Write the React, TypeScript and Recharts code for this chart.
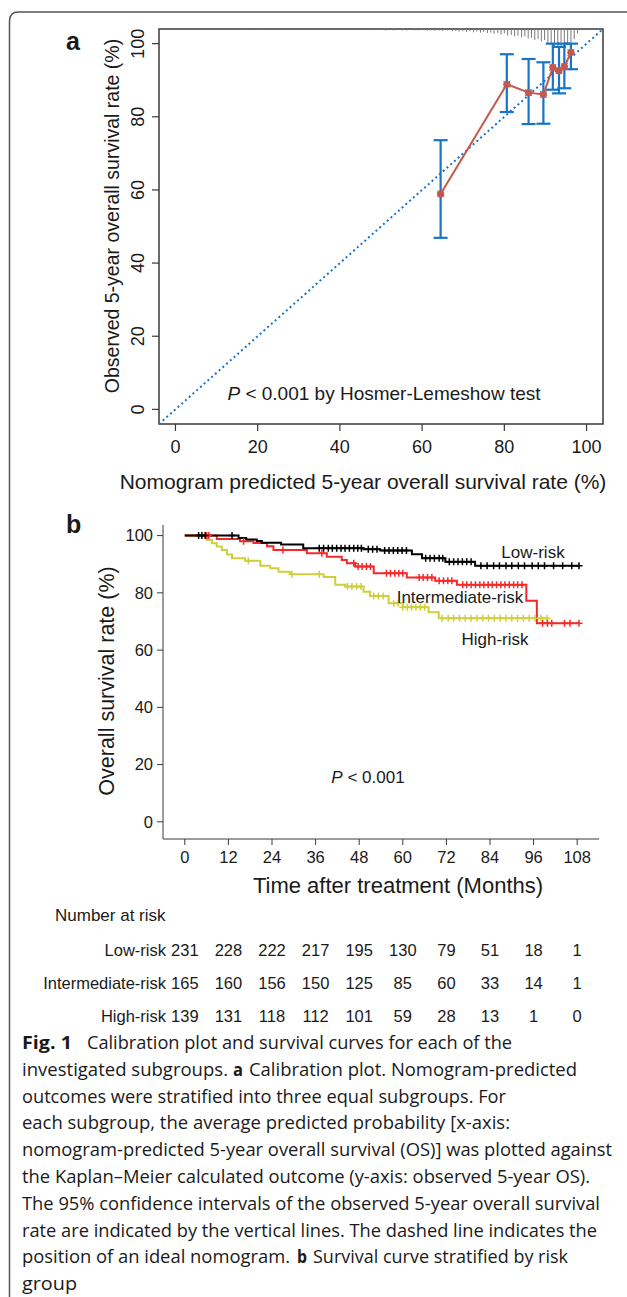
import {
  ComposedChart,
  Line,
  Scatter,
  XAxis,
  YAxis,
  ErrorBar,
  ReferenceLine,
  ReferenceArea,
} from "recharts";

const FONT = "'Liberation Sans', Arial, Helvetica, sans-serif";
const CAPTION_FONT = "'Open Sans', 'Noto Sans', sans-serif";
const BLUE = "#1874c8";
const BROWN = "#c4594b";
const AXIS = "#3a3a3a";
const INK = "#1a1a1a";

// ---- panel a: calibration plot ----
const calPredicted = [64.5, 80.6, 85.9, 89.5, 91.8, 93.3, 94.6, 96.2];
const calObserved = [58.9, 88.9, 86.6, 86.1, 93.5, 92.6, 93.7, 97.6];
const calLower = [46.9, 81.3, 78.0, 78.1, 87.4, 86.4, 87.8, 93.0];
const calUpper = [73.6, 97.1, 95.8, 94.9, 100, 99.1, 100, 100];
const calTicks = [0, 20, 40, 60, 80, 100];

// distribution of predicted risk (rug along the top edge)
const rugX = [
  16.8, 20.9, 47.2, 48.4, 49.8, 51.2, 52.0, 53.1, 54.0, 55.2, 56.3, 58.1, 59.0,
  60.2, 61.3, 62.0, 63.1, 64.2, 65.0, 66.1, 67.4, 68.2, 69.0, 69.9, 70.8, 71.6,
  72.5, 73.3, 74.2, 75.0, 75.9, 76.7, 77.5, 78.4, 79.2, 80.0, 80.8, 81.7, 82.5,
  83.3, 84.2, 85.0, 85.8, 86.6, 87.4, 88.2, 89.0, 89.8, 90.6, 91.4, 92.2, 93.0,
  93.8, 94.6, 95.4, 96.2, 97.0, 97.8,
];
const rugLen = [
  0.3, 0.3, 0.3, 0.3, 0.3, 0.4, 0.3, 0.4, 0.3, 0.4, 0.4, 0.4, 0.4, 0.3, 0.5,
  0.4, 0.5, 0.4, 0.5, 0.4, 0.6, 0.5, 0.7, 0.6, 0.8, 0.6, 0.9, 0.7, 1.0, 0.8,
  1.1, 1.0, 1.3, 1.1, 1.5, 1.2, 1.8, 1.6, 2.0, 1.8, 2.3, 2.0, 2.6, 2.4, 3.0,
  2.7, 3.4, 3.0, 3.8, 4.2, 4.8, 5.0, 4.6, 5.2, 4.4, 3.6, 2.8, 1.2,
];

// ---- panel b: Kaplan-Meier curves ----
const monthTicks = [0, 12, 24, 36, 48, 60, 72, 84, 96, 108];
const survTicks = [0, 20, 40, 60, 80, 100];

const lowTimes = [0, 14.8, 16.9, 19.8, 21.2, 26.5, 32.6, 49.2, 53.8, 62.5, 65.3, 71.7, 79.9];
const lowSurv = [100, 99.2, 98.6, 98.1, 97.5, 96.9, 95.6, 95.2, 94.8, 93.5, 92.1, 90.9, 89.5];
const lowEnd = 108.5;
const lowCensor = [
  3.8, 4.7, 5.6, 13.0, 37, 38.2, 39.5, 40.6, 41.8, 43, 44.1, 45.3, 46.5, 47.6,
  48.6, 50.5, 51.7, 52.9, 55, 56.2, 57.4, 58.6, 59.8, 61, 66.3, 67.5, 68.7, 70,
  71, 72.8, 74, 75.2, 76.4, 77.6, 78.8, 81.5, 83.2, 85, 86.6, 88.4, 90, 91.8,
  93.5, 95.6, 97.3, 99, 101.5, 104, 106.5, 108.5,
];

const midTimes = [0, 8.8, 15.2, 18.9, 22.6, 24.4, 33.6, 39.1, 43.2, 44.6, 46.9, 52.0, 61.1, 68.9, 74.9, 94.0, 96.9];
const midSurv = [100, 98.8, 98.0, 97.4, 96.3, 95.0, 93.8, 92.6, 91.5, 90.3, 89.2, 86.8, 85.4, 84.2, 82.8, 77.2, 69.4];
const midEnd = 108.5;
const midCensor = [
  6.0, 6.6, 16.2, 27, 37.7, 46.5, 47.7, 48.8, 50, 51.1, 55.5, 56.6, 57.8, 58.9,
  60, 64.5, 65.6, 66.8, 68, 70, 71.2, 72.4, 73.5, 76.5, 77.6, 78.8, 80, 81.2,
  82.3, 83.5, 84.6, 85.8, 87, 88.1, 89.3, 90.5, 91.6, 92.8, 98.5, 99.8, 101,
  104.5, 106, 108.5,
];

const highTimes = [0, 6.1, 7.5, 8.8, 10.2, 11.6, 13.0, 16.6, 20.8, 23.5, 25.8, 29.0, 38.2, 41.4, 44.2, 49.2, 51.0, 56.1, 60.0, 67.1, 69.9];
const highSurv = [100, 98.5, 97.3, 96.2, 95.0, 93.4, 92.1, 91.2, 89.5, 88.6, 87.4, 86.5, 85.5, 82.8, 82.2, 80.4, 78.9, 76.4, 75.0, 73.2, 71.1];
const highEnd = 99.7;
const highCensor = [
  17.5, 29.5, 37, 44.8, 46, 47.3, 48.5, 52, 53.3, 54.6, 57.5, 58.7, 60, 61.2,
  62.4, 63.6, 64.8, 66, 70.8, 72.5, 74, 75.6, 77.2, 78.8, 80.4, 82, 83.6, 85.2,
  86.8, 88.4, 90, 91.6, 93.2, 94.8, 96.4, 98, 99.7,
];

const riskNames = ["Low-risk", "Intermediate-risk", "High-risk"];
const riskLow = [231, 228, 222, 217, 195, 130, 79, 51, 18, 1];
const riskMid = [165, 160, 156, 150, 125, 85, 60, 33, 14, 1];
const riskHigh = [139, 131, 118, 112, 101, 59, 28, 13, 1, 0];

// caption pieces: text, bold, left x, width
type Seg = [string, boolean, number, number];
const captionLines: Seg[][] = [
  [["Fig. 1", true, 22, 50], ["Calibration plot and survival curves for each of the", false, 87, 425]],
  [["investigated subgroups.", false, 22, 206], ["a", true, 233, 10], ["Calibration plot. Nomogram-predicted", false, 249, 328]],
  [["outcomes were stratified into three equal subgroups. For", false, 22, 484]],
  [["each subgroup, the average predicted probability [x-axis:", false, 22, 488]],
  [["nomogram-predicted 5-year overall survival (OS)] was plotted against", false, 22, 590]],
  [["the Kaplan\u2013Meier calculated outcome (y-axis: observed 5-year OS).", false, 22, 568]],
  [["The 95% confidence intervals of the observed 5-year overall survival", false, 22, 578]],
  [["rate are indicated by the vertical lines. The dashed line indicates the", false, 22, 575]],
  [["position of an ideal nomogram.", false, 22, 268], ["b", true, 297, 10], ["Survival curve stratified by risk", false, 313, 255]],
  [["group", false, 22, 55]],
];

function kmData(times: number[], surv: number[], end: number) {
  return [
    ...times.map((t, i) => ({ t, s: surv[i] })),
    { t: end, s: surv[surv.length - 1] },
  ];
}

function survAt(times: number[], surv: number[], t: number) {
  let s = surv[0];
  times.forEach((tt, i) => {
    if (tt <= t) s = surv[i];
  });
  return s;
}

function censorData(times: number[], surv: number[], censor: number[]) {
  return censor.map((t) => ({ t, s: survAt(times, surv, t) }));
}

const calData = calPredicted.map((x, i) => ({
  x,
  y: calObserved[i],
  err: [calObserved[i] - calLower[i], calUpper[i] - calObserved[i]],
}));

function RotatedTick({ x, y, payload }: any) {
  return (
    <text
      x={x}
      y={y}
      transform={`rotate(-90 ${x} ${y})`}
      textAnchor="middle"
      fontSize={18}
      fontFamily={FONT}
      fill={INK}
    >
      {payload.value}
    </text>
  );
}

function CalDot({ cx, cy }: any) {
  if (cx == null || cy == null) return null;
  return (
    <g>
      <path
        d={`M${cx - 3.5},${cy - 3.5}L${cx + 3.5},${cy + 3.5}M${cx - 3.5},${cy + 3.5}L${cx + 3.5},${cy - 3.5}`}
        stroke="#6b6bff"
        strokeWidth={1}
      />
      <circle cx={cx} cy={cy} r={3.6} fill={BROWN} />
    </g>
  );
}

function plusShape(color: string) {
  return ({ cx, cy }: any) => {
    if (cx == null || cy == null) return null;
    return (
      <path
        d={`M${cx - 3.5},${cy}H${cx + 3.5}M${cx},${cy - 3.5}V${cy + 3.5}`}
        stroke={color}
        strokeWidth={1.5}
        fill="none"
      />
    );
  };
}

const noShape = () => null;

function CalibrationChart() {
  return (
    <ComposedChart
      width={627}
      height={500}
      margin={{ top: 29, right: 24, bottom: 46, left: 119 }}
    >
      <XAxis
        type="number"
        dataKey="x"
        domain={[-4, 104]}
        ticks={calTicks}
        height={30}
        axisLine={false}
        tickSize={7}
        tickMargin={9}
        tickLine={{ stroke: AXIS, strokeWidth: 1.2 }}
        tick={{ fontSize: 18, fill: INK, fontFamily: FONT }}
      />
      <YAxis
        type="number"
        dataKey="y"
        domain={[-4, 104]}
        ticks={calTicks}
        width={40}
        axisLine={false}
        tickSize={7}
        tickMargin={7.5}
        tickLine={{ stroke: AXIS, strokeWidth: 1.2 }}
        tick={<RotatedTick />}
      />
      <ReferenceArea
        x1={-4}
        x2={104}
        y1={-4}
        y2={104}
        fill="none"
        fillOpacity={0}
        stroke={AXIS}
        strokeWidth={1.5}
        ifOverflow="visible"
      />
      {rugX.map((x, i) => (
        <ReferenceLine
          key={`rug-${i}`}
          segment={[
            { x, y: 104 },
            { x, y: 104 - rugLen[i] },
          ]}
          stroke="#7a7a7a"
          strokeWidth={1}
          ifOverflow="visible"
        />
      ))}
      <ReferenceLine
        segment={[
          { x: -4, y: -4 },
          { x: 104, y: 104 },
        ]}
        stroke={BLUE}
        strokeWidth={2}
        strokeDasharray="2 3"
        ifOverflow="visible"
      />
      <Scatter
        data={calData}
        line={{ stroke: BROWN, strokeWidth: 2 }}
        lineType="joint"
        shape={<CalDot />}
        isAnimationActive={false}
      >
        <ErrorBar
          dataKey="err"
          direction="y"
          width={7}
          stroke={BLUE}
          strokeWidth={2.2}
          isAnimationActive={false}
        />
      </Scatter>
    </ComposedChart>
  );
}

// number-at-risk rows are drawn as extra month axes whose tick labels are the counts
function riskAxis(id: string, values: number[]) {
  return (
    <XAxis
      key={id}
      xAxisId={id}
      type="number"
      dataKey="t"
      domain={[-6, 114]}
      ticks={monthTicks}
      height={33}
      axisLine={false}
      tickLine={false}
      tickSize={0}
      tickMargin={11}
      tickFormatter={(v: number) => String(values[monthTicks.indexOf(v)])}
      tick={{ fontSize: 16.5, fill: INK, fontFamily: FONT }}
    />
  );
}

function riskAnchor(id: string) {
  return (
    <Scatter
      key={`anchor-${id}`}
      xAxisId={id}
      data={monthTicks.map((t) => ({ t, s: 0 }))}
      dataKey="s"
      shape={noShape}
      isAnimationActive={false}
    />
  );
}

function SurvivalChart() {
  return (
    <ComposedChart
      width={627}
      height={540}
      margin={{ top: 25, right: 28, bottom: 8, left: 123 }}
    >
      <XAxis
        type="number"
        dataKey="t"
        domain={[-6, 114]}
        ticks={monthTicks}
        height={94}
        stroke={AXIS}
        tickSize={6}
        tickMargin={6}
        tick={{ fontSize: 16.5, fill: INK, fontFamily: FONT }}
      />
      {riskAxis("r1", riskLow)}
      {riskAxis("r2", riskMid)}
      {riskAxis("r3", riskHigh)}
      <YAxis
        type="number"
        dataKey="s"
        domain={[-6, 103.7]}
        ticks={survTicks}
        width={40}
        stroke={AXIS}
        tickSize={6}
        tickMargin={4}
        tick={{ fontSize: 16.5, fill: INK, fontFamily: FONT }}
      />
      {riskAnchor("r1")}
      {riskAnchor("r2")}
      {riskAnchor("r3")}
      <Line
        data={kmData(highTimes, highSurv, highEnd)}
        dataKey="s"
        type="stepAfter"
        stroke="#cfcf3c"
        strokeWidth={2}
        dot={false}
        isAnimationActive={false}
      />
      <Scatter
        data={censorData(highTimes, highSurv, highCensor)}
        dataKey="s"
        shape={plusShape("#cfcf3c")}
        isAnimationActive={false}
      />
      <Line
        data={kmData(midTimes, midSurv, midEnd)}
        dataKey="s"
        type="stepAfter"
        stroke="#f42a2a"
        strokeWidth={2}
        dot={false}
        isAnimationActive={false}
      />
      <Scatter
        data={censorData(midTimes, midSurv, midCensor)}
        dataKey="s"
        shape={plusShape("#f42a2a")}
        isAnimationActive={false}
      />
      <Line
        data={kmData(lowTimes, lowSurv, lowEnd)}
        dataKey="s"
        type="stepAfter"
        stroke="#000000"
        strokeWidth={2}
        dot={false}
        isAnimationActive={false}
      />
      <Scatter
        data={censorData(lowTimes, lowSurv, lowCensor)}
        dataKey="s"
        shape={plusShape("#000000")}
        isAnimationActive={false}
      />
    </ComposedChart>
  );
}

function Overlay() {
  const t = { fontFamily: FONT, fill: INK };
  return (
    <svg
      width={627}
      height={1297}
      style={{ position: "absolute", left: 0, top: 0, pointerEvents: "none" }}
    >
      <path d="M9.5 1297 V21 Q9.5 12 18.5 12 H627" fill="none" stroke="#555" strokeWidth={1.5} />

      {/* panel a */}
      <text x={66} y={50} fontSize={25} fontWeight="bold" {...t}>a</text>
      <text
        x={112}
        y={216}
        transform="rotate(-90 112 216)"
        textAnchor="middle"
        dominantBaseline="central"
        fontSize={19.5}
        {...t}
      >
        Observed 5-year overall survival rate (%)
      </text>
      <text x={363} y={481} textAnchor="middle" dominantBaseline="central" fontSize={21} {...t}>
        Nomogram predicted 5-year overall survival rate (%)
      </text>
      <text x={384} y={393} textAnchor="middle" dominantBaseline="central" fontSize={19} {...t}>
        <tspan fontStyle="italic">P</tspan> &lt; 0.001 by Hosmer-Lemeshow test
      </text>

      {/* panel b */}
      <text x={66} y={533} fontSize={25} fontWeight="bold" {...t}>b</text>
      <text
        x={107}
        y={681}
        transform="rotate(-90 107 681)"
        textAnchor="middle"
        dominantBaseline="central"
        fontSize={21.5}
        {...t}
      >
        Overall survival rate (%)
      </text>
      <text x={398} y={885} textAnchor="middle" dominantBaseline="central" fontSize={22} {...t}>
        Time after treatment (Months)
      </text>
      <text x={368} y={777} textAnchor="middle" dominantBaseline="central" fontSize={17} {...t}>
        <tspan fontStyle="italic">P</tspan> &lt; 0.001
      </text>
      <text x={533} y={552} textAnchor="middle" dominantBaseline="central" fontSize={17} {...t}>Low-risk</text>
      <text x={460} y={597} textAnchor="middle" dominantBaseline="central" fontSize={17} {...t}>Intermediate-risk</text>
      <text x={495} y={639} textAnchor="middle" dominantBaseline="central" fontSize={17} {...t}>High-risk</text>

      {/* number at risk */}
      <text x={55} y={915} dominantBaseline="central" fontSize={17} {...t}>Number at risk</text>
      {riskNames.map((n, i) => (
        <text key={n} x={166} y={950 + i * 33} textAnchor="end" dominantBaseline="central" fontSize={16.5} {...t}>
          {n}
        </text>
      ))}

      {/* caption */}
      {captionLines.map((segs, i) =>
        segs.map(([s, b, x, w], j) => (
          <text
            key={`${i}-${j}`}
            x={x}
            y={1049 + i * 26.8}
            fontSize={18.5}
            fontFamily={CAPTION_FONT}
            fontWeight={b ? "bold" : "normal"}
            fill={INK}
            textLength={w}
            lengthAdjust="spacingAndGlyphs"
          >
            {s}
          </text>
        ))
      )}
    </svg>
  );
}

export default function App() {
  return (
    <div
      style={{
        position: "absolute",
        left: 0,
        top: 0,
        width: 627,
        height: 1297,
        background: "#fff",
        overflow: "hidden",
      }}
    >
      <div style={{ position: "absolute", left: 0, top: 0 }}>
        <CalibrationChart />
      </div>
      <div style={{ position: "absolute", left: 0, top: 500 }}>
        <SurvivalChart />
      </div>
      <Overlay />
    </div>
  );
}
